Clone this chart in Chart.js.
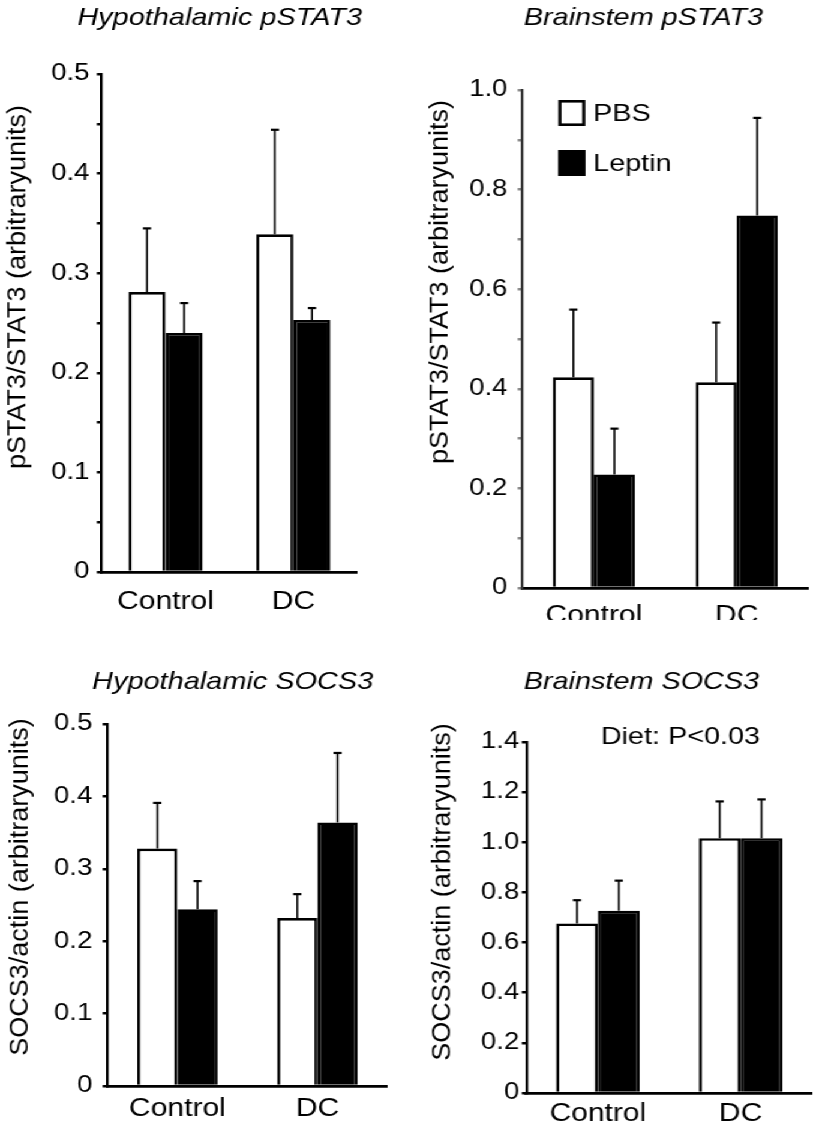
<!DOCTYPE html>
<html>
<head>
<meta charset="utf-8">
<script src="https://cdn.jsdelivr.net/npm/chart.js@4"></script>
<style>
  html, body { margin: 0; padding: 0; background: #fff; overflow: hidden; }
  #stage { position: absolute; left: 0; top: 0; width: 682.5px; height: 1134px; transform: scaleX(1.2); transform-origin: 0 0; }
  .panel { position: absolute; }
</style>
</head>
<body>
<div id="stage">
  <div class="panel" style="left:0px;top:0px;width:341.67px;height:620px"><canvas id="hypoStat"></canvas></div>
  <div class="panel" style="left:341.67px;top:0px;width:340.83px;height:620px"><canvas id="brainStat"></canvas></div>
  <div class="panel" style="left:0px;top:620px;width:341.67px;height:514px"><canvas id="hypoSocs"></canvas></div>
  <div class="panel" style="left:341.67px;top:620px;width:340.83px;height:514px"><canvas id="brainSocs"></canvas></div>
</div>
<script>
// horizontal stretch of the whole figure
const S = 1.2;

const categories = ["Control", "DC"];
const seriesNames = ["PBS", "Leptin"];

// Hypothalamic pSTAT3
const hypoStatPbs = [0.281, 0.339];
const hypoStatPbsErr = [0.064, 0.105];
const hypoStatLep = [0.240, 0.253];
const hypoStatLepErr = [0.030, 0.012];

// Brainstem pSTAT3
const brainStatPbs = [0.423, 0.413];
const brainStatPbsErr = [0.136, 0.120];
const brainStatLep = [0.228, 0.748];
const brainStatLepErr = [0.092, 0.196];

// Hypothalamic SOCS3
const hypoSocsPbs = [0.328, 0.232];
const hypoSocsPbsErr = [0.063, 0.033];
const hypoSocsLep = [0.244, 0.364];
const hypoSocsLepErr = [0.039, 0.096];

// Brainstem SOCS3
const brainSocsPbs = [0.676, 1.016];
const brainSocsPbsErr = [0.093, 0.147];
const brainSocsLep = [0.727, 1.016];
const brainSocsLepErr = [0.120, 0.155];

Chart.defaults.font.family = '"Liberation Sans", Arial, sans-serif';
Chart.defaults.color = "#000";

const errorBars = {
    id: "errorBars",
    afterDatasetsDraw(chart) {
        const ctx = chart.ctx;
        const y = chart.scales.y;
        chart.data.datasets.forEach((ds, i) => {
            const meta = chart.getDatasetMeta(i);
            meta.data.forEach((bar, j) => {
                const top = y.getPixelForValue(ds.data[j] + ds.errors[j]);
                ctx.save();
                ctx.strokeStyle = "#000";
                ctx.lineWidth = 1.6;
                ctx.beginPath();
                ctx.moveTo(bar.x, bar.y);
                ctx.lineTo(bar.x, top);
                ctx.stroke();
                ctx.lineWidth = 2.2;
                ctx.beginPath();
                ctx.moveTo(bar.x - 3.4, top);
                ctx.lineTo(bar.x + 3.4, top);
                ctx.stroke();
                ctx.restore();
            });
        });
    }
};

const panelText = {
    id: "panelText",
    afterDraw(chart, args, opts) {
        const ctx = chart.ctx;
        ctx.save();
        ctx.fillStyle = "#000";
        ctx.textAlign = "center";
        ctx.textBaseline = "middle";
        ctx.font = 'italic 24px "Liberation Sans", Arial, sans-serif';
        ctx.fillText(opts.title, opts.titleX, opts.titleY);

        ctx.save();
        ctx.translate(opts.labelX, opts.labelY);
        ctx.scale(1 / S, 1);
        ctx.rotate(-Math.PI / 2);
        ctx.font = '27px "Liberation Sans", Arial, sans-serif';
        ctx.fillText(opts.label, 0, 0);
        ctx.restore();

        if (opts.note) {
            ctx.font = '24px "Liberation Sans", Arial, sans-serif';
            ctx.fillText(opts.note, opts.noteX, opts.noteY);
        }
        if (opts.legend) {
            ctx.font = '24px "Liberation Sans", Arial, sans-serif';
            ctx.textAlign = "left";
            chart.data.datasets.forEach((ds, i) => {
                const by = opts.legendY + i * 50;
                ctx.fillStyle = ds.backgroundColor;
                ctx.fillRect(opts.legendX, by, 22.5, 26);
                ctx.strokeStyle = "#000";
                ctx.lineWidth = 2.6;
                ctx.strokeRect(opts.legendX + 1.3, by + 1.3, 19.9, 23.4);
                ctx.fillStyle = "#000";
                ctx.fillText(ds.label, opts.legendX + 29, by + 14);
            });
        }
        ctx.restore();
    }
};

function makePanel(id, p) {
    new Chart(document.getElementById(id), {
        type: "bar",
        data: {
            labels: categories,
            datasets: [
                { label: seriesNames[0], data: p.pbs, errors: p.pbsErr, backgroundColor: "#fff", borderColor: "#000", borderWidth: 2.6 },
                { label: seriesNames[1], data: p.lep, errors: p.lepErr, backgroundColor: "#000", borderColor: "#000", borderWidth: 2.6 }
            ]
        },
        options: {
            responsive: true,
            maintainAspectRatio: false,
            animation: false,
            layout: { padding: { left: 0, right: p.padRight, top: p.padTop, bottom: 0 } },
            datasets: { bar: { barPercentage: 1, categoryPercentage: p.catPct } },
            plugins: {
                legend: { display: false },
                tooltip: { enabled: false },
                panelText: p.text
            },
            scales: {
                x: {
                    grid: { display: false, drawTicks: false },
                    border: { color: "#000", width: 2.7 },
                    ticks: { font: { size: 25 }, padding: p.xPad },
                    afterFit(s) { s.height = p.xHeight; }
                },
                y: {
                    min: 0,
                    max: p.max,
                    ticks: {
                        stepSize: p.step,
                        autoSkip: false,
                        font: { size: 23 },
                        padding: p.yPad,
                        callback: (v) => {
                            const n = Math.round(v / p.major * 1000) / 1000;
                            if (n !== Math.round(n)) return "";
                            return v === 0 ? "0" : v.toFixed(1);
                        }
                    },
                    grid: { drawOnChartArea: false, drawTicks: true, tickLength: 4, lineWidth: 2.5, color: p.tickColor },
                    border: { color: p.axisColor, width: 2.2 },
                    afterFit(s) { s.width = p.yWidth; }
                }
            }
        },
        plugins: [errorBars, panelText]
    });
}

makePanel("hypoStat", {
    pbs: hypoStatPbs, pbsErr: hypoStatPbsErr, lep: hypoStatLep, lepErr: hypoStatLepErr,
    max: 0.5, step: 0.05, major: 0.1,
    yWidth: 84.4, padRight: 44.8, padTop: 74, xHeight: 48, xPad: 15, yPad: 6, catPct: 0.58,
    tickColor: "#000", axisColor: "#000",
    text: { title: "Hypothalamic pSTAT3", titleX: 182.5, titleY: 18,
            label: "pSTAT3/STAT3 (arbitraryunits)", labelX: 15, labelY: 287 }
});

makePanel("brainStat", {
    pbs: brainStatPbs, pbsErr: brainStatPbsErr, lep: brainStatLep, lepErr: brainStatLepErr,
    max: 1.0, step: 0.1, major: 0.2,
    yWidth: 93.4, padRight: 9.4, padTop: 90, xHeight: 32, xPad: 13, yPad: 8.5, catPct: 0.575,
    tickColor: "#888", axisColor: "#333",
    text: { title: "Brainstem pSTAT3", titleX: 194.2, titleY: 18,
            label: "pSTAT3/STAT3 (arbitraryunits)", labelX: 25, labelY: 282,
            legend: true, legendX: 123.3, legendY: 100 }
});

makePanel("hypoSocs", {
    pbs: hypoSocsPbs, pbsErr: hypoSocsPbsErr, lep: hypoSocsLep, lepErr: hypoSocsLepErr,
    max: 0.5, step: 0.1, major: 0.1,
    yWidth: 89.2, padRight: 19.8, padTop: 104, xHeight: 48, xPad: 8, yPad: 8.5, catPct: 0.575,
    tickColor: "#000", axisColor: "#000",
    text: { title: "Hypothalamic SOCS3", titleX: 193.3, titleY: 62,
            label: "SOCS3/actin (arbitraryunits)", labelX: 16.7, labelY: 267 }
});

makePanel("brainSocs", {
    pbs: brainSocsPbs, pbsErr: brainSocsPbsErr, lep: brainSocsLep, lepErr: brainSocsLepErr,
    max: 1.4, step: 0.2, major: 0.2,
    yWidth: 96.8, padRight: 6.2, padTop: 122, xHeight: 41, xPad: 6, yPad: 2, catPct: 0.586,
    tickColor: "#000", axisColor: "#000",
    text: { title: "Brainstem SOCS3", titleX: 192.5, titleY: 62,
            label: "SOCS3/actin (arbitraryunits)", labelX: 26.7, labelY: 272,
            note: "Diet: P<0.03", noteX: 225, noteY: 117 }
});
</script>
</body>
</html>
